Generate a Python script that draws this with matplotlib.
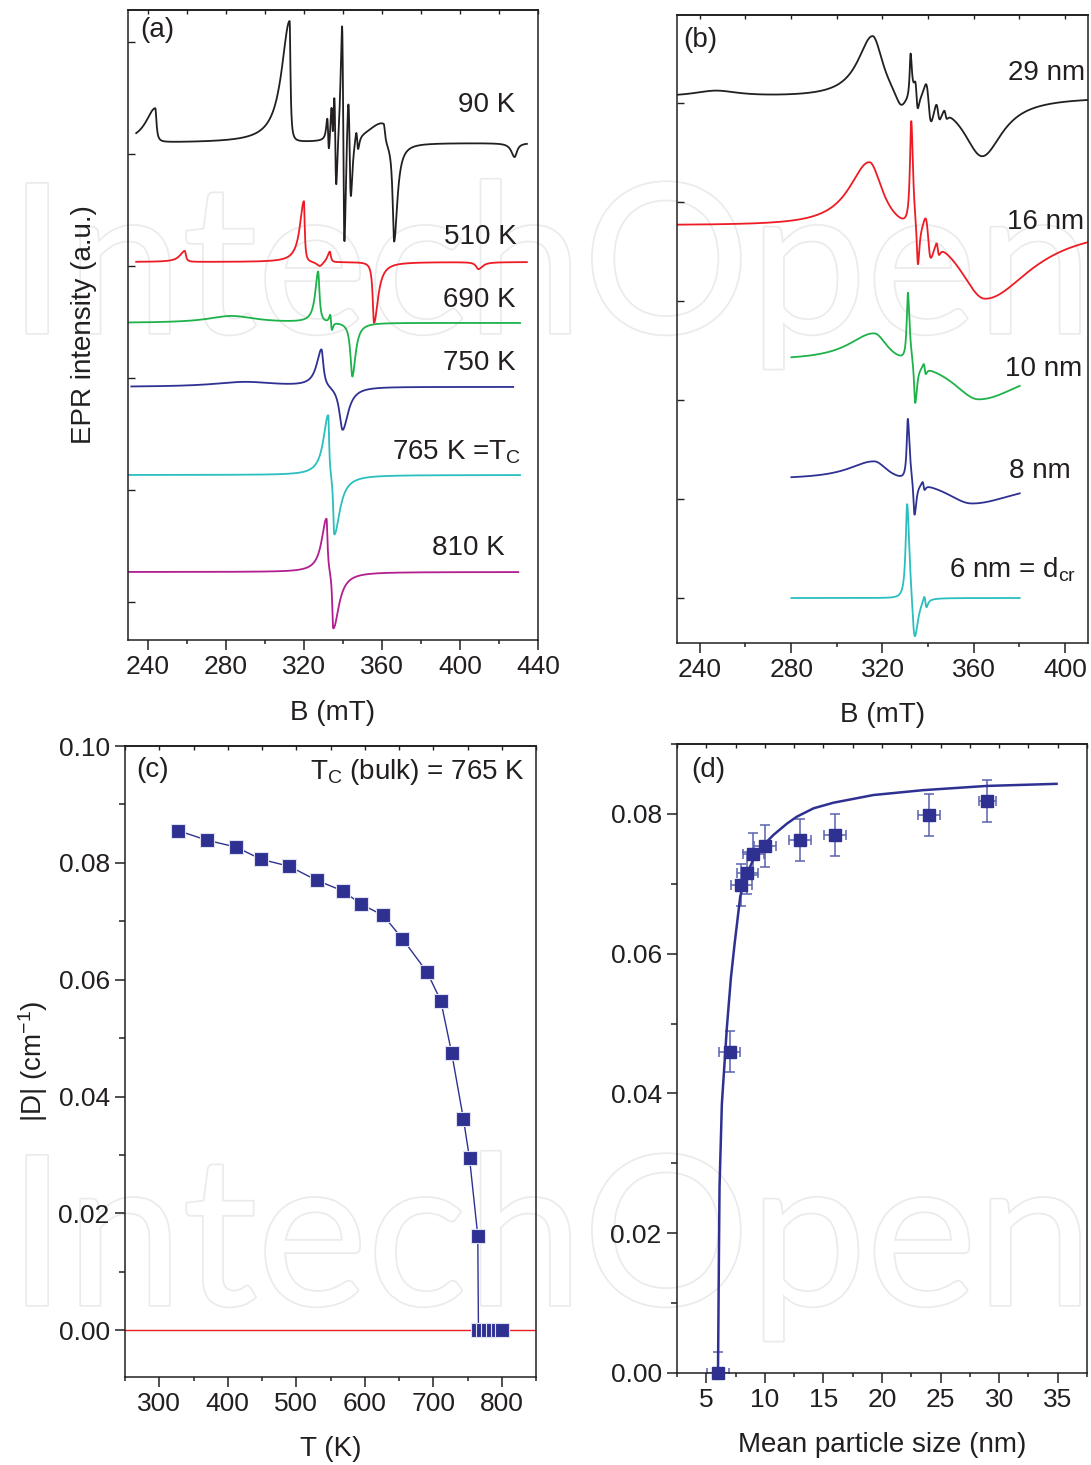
import numpy as np
import matplotlib
matplotlib.use('Agg')
import matplotlib.pyplot as plt
from matplotlib import patheffects
from matplotlib.ticker import MultipleLocator, FormatStrFormatter

plt.rcParams['font.family'] = ['Liberation Sans Narrow', 'Liberation Sans', 'DejaVu Sans']
plt.rcParams['font.size'] = 19
plt.rcParams['mathtext.default'] = 'regular'
plt.rcParams['axes.linewidth'] = 1.1

ink = '#231f20'
navy = '#2e3192'

# ---- panel (a): EPR spectra vs temperature (line components)
a_labels = ['90 K', '510 K', '690 K', '750 K', '765 K =T$_\\mathregular{C}$', '810 K']
a_colors = [ink, '#ed1c24', '#1db24a', '#2e3192', '#2bbfbf', '#b01e8f']
a_offsets = [459, 340, 279, 215, 127, 30]
a_start = [234.2, 234.2, 230.0, 231.7, 230.0, 230.0]
a_end = [434.3, 434.3, 430.9, 427.4, 430.9, 430.0]
# asymmetric absorption-like peaks: (B0, left width, right width, height)
a_peaks = [
    [(244.0, 6.0, 0.7, 34), (312.8, 5.0, 0.5, 121), (361.0, 10.0, 0.8, 22),
     (366.3, 0.9, 2.0, -99), (428.0, 2.0, 1.5, -14)],
    [(259.1, 3.0, 0.7, 11), (320.1, 2.5, 0.5, 61), (328.3, 2.0, 2.0, -5),
     (333.4, 1.5, 0.6, 11), (356.0, 0.8, 2.5, -61), (409.5, 1.5, 2.5, -7)],
    [(283.0, 15.0, 15.0, 7), (327.4, 1.8, 0.8, 51), (344.9, 1.2, 2.0, -54)],
    [(290.0, 20.0, 20.0, 5), (329.1, 3.0, 1.2, 38), (339.9, 2.0, 3.5, -44)],
    [(332.6, 3.0, 0.5, 62), (335.6, 0.6, 3.5, -61)],
    [(331.7, 3.0, 0.6, 55), (335.1, 0.6, 3.5, -58)],
]
# first-derivative lines: (B0, width, peak-to-peak)
a_derivs = [
    [(332.5, 0.8, 35), (334.6, 0.8, 45), (336.15, 0.95, 101), (340.25, 1.1, 224),
     (343.5, 1.2, 105), (347.4, 0.9, 20)],
    [],
    [(334.0, 0.8, 15)],
    [], [], [],
]

# ---- panel (b): EPR spectra vs particle size
b_labels = ['29 nm', '16 nm', '10 nm', '8 nm', '6 nm = d$_\\mathregular{cr}$']
b_colors = [ink, '#ed1c24', '#1db24a', '#2e3192', '#2bbfbf']
b_offsets = [501, 373, 238, 119, 0]
b_start = [230.0, 230.0, 280.1, 280.1, 280.1]
b_end = [410.0, 410.0, 380.2, 380.2, 380.2]
b_peaks = [
    [(247.0, 12.0, 12.0, 6), (315.7, 8.0, 5.5, 64), (328.0, 3.0, 3.0, -15),
     (332.3, 0.5, 0.7, 45), (363.6, 10.0, 11.0, -60)],
    [(314.3, 11.0, 7.0, 68), (332.6, 0.7, 0.9, 108), (335.5, 0.6, 0.8, -45), (364.8, 14.0, 25.0, -75)],
    [(316.5, 14.0, 7.0, 30), (331.1, 0.6, 0.9, 70), (334.3, 0.6, 1.0, -44), (362.0, 14.0, 25.0, -40)],
    [(316.5, 14.0, 7.0, 20), (331.1, 0.6, 0.9, 63), (334.0, 0.6, 1.0, -38), (359.0, 14.0, 25.0, -25)],
    [(330.8, 0.8, 1.2, 100), (334.0, 1.2, 1.8, -50)],
]
b_derivs = [
    [(334.9, 1.0, 25), (340.2, 2.0, 37), (344.3, 1.4, 17), (347.6, 1.0, 8)],
    [(340.0, 2.0, 37), (344.2, 1.0, 12)],
    [(338.5, 0.8, 10)],
    [(338.0, 0.8, 8)],
    [(338.8, 0.9, 12)],
]

# ---- panel (c): |D| vs temperature
T = [328, 369, 412, 449, 490, 530, 568, 595, 627, 655, 691, 711, 727, 744, 753, 765,
     766, 773, 780, 787, 794, 800]
D_T = [0.0855, 0.0839, 0.0827, 0.0806, 0.0794, 0.0770, 0.0752, 0.0729, 0.0710, 0.0670,
       0.0613, 0.0564, 0.0474, 0.0362, 0.0294, 0.0162, 0.0, 0.0, 0.0, 0.0, 0.0, 0.0]

# ---- panel (d): |D| vs mean particle size
size = [6.0, 7.0, 8.0, 8.5, 9.0, 10.0, 13.0, 16.0, 24.0, 29.0]
D_size = [0.0, 0.046, 0.0698, 0.0716, 0.0743, 0.0754, 0.0762, 0.0770, 0.0799, 0.0819]
size_err = [0.9, 0.9, 0.9, 0.9, 0.9, 0.95, 0.95, 0.95, 0.95, 0.75]
D_err = [0.003] * 10
fit_size = [6.0, 6.08, 6.13, 6.33, 6.76, 7.1, 7.41, 7.9, 8.33, 9.04, 9.74, 10.74, 11.88,
            12.73, 14.16, 15.86, 19.27, 23.54, 28.94, 34.9]
fit_D = [0.0, 0.0172, 0.0266, 0.0385, 0.0495, 0.0565, 0.0613, 0.0682, 0.0708, 0.0736,
         0.0753, 0.0770, 0.0786, 0.0796, 0.0808, 0.0816, 0.0827, 0.0834, 0.0840, 0.0843]


def apk(B, B0, wl, wr, A):
    w = np.where(B < B0, wl, wr)
    return A / (1 + ((B - B0) / w) ** 2)


def dlor(B, B0, w, pp):
    x = (B - B0) / w
    return -pp * 2 * x / (1 + x ** 2) ** 2 / 1.299


def spectrum(start, end, peaks, derivs):
    B = np.arange(start, end, 0.1)
    y = np.zeros_like(B)
    for p in peaks:
        y += apk(B, *p)
    for d in derivs:
        y += dlor(B, *d)
    return B, y


W, H = 1091, 1465
fig = plt.figure(figsize=(W / 100, H / 100), dpi=100)


def px_axes(l, t, r, b):
    ax = fig.add_axes([l / W, 1 - b / H, (r - l) / W, (b - t) / H])
    ax.set_facecolor('none')
    ax.set_zorder(2)
    for s in ax.spines.values():
        s.set_color(ink)
    return ax


def x_ticks(ax, major, minor):
    ax.xaxis.set_major_locator(MultipleLocator(major))
    ax.xaxis.set_minor_locator(MultipleLocator(minor))
    ax.tick_params(axis='x', which='major', direction='out', length=7, width=1.1,
                   pad=4, colors=ink, labelcolor=ink)
    ax.tick_params(axis='x', which='minor', direction='out', length=3, width=1.1, colors=ink)
    top = ax.secondary_xaxis('top')
    top.xaxis.set_major_locator(MultipleLocator(major))
    top.xaxis.set_minor_locator(MultipleLocator(minor))
    top.tick_params(which='both', direction='in', length=3, width=1.0, labeltop=False, colors=ink)


# watermark, behind everything
for yb in [333, 1305]:
    fig.text(8 / W, 1 - yb / H, 'IntechOpen', fontsize=150, family='Lato', color='white',
             ha='left', va='baseline', zorder=-10,
             path_effects=[patheffects.withStroke(linewidth=2.5, foreground='#ebebeb')])

# (a)
ax = px_axes(128, 10, 538, 640)
for i in range(len(a_labels)):
    B, y = spectrum(a_start[i], a_end[i], a_peaks[i], a_derivs[i])
    ax.plot(B, y + a_offsets[i], color=a_colors[i], lw=1.3)
ax.set_xlim(230, 440)
ax.set_ylim(-38, 592)
x_ticks(ax, 40, 20)
ax.set_yticks(np.arange(0, 600, 112))
ax.tick_params(axis='y', direction='in', length=5, width=1.0, labelleft=False, colors=ink)
label_pos_a = [(428.3, 497), (429.1, 365), (428.3, 302), (428.3, 239), (431.4, 150), (423.2, 54)]
for lab, (bx, by) in zip(a_labels, label_pos_a):
    ax.text(bx, by, lab, ha='right', va='center', color=ink, fontsize=20)
ax.text(0.029, 0.968, '(a)', transform=ax.transAxes, ha='left', va='center', color=ink, fontsize=20)
ax.set_xlabel('B (mT)', color=ink, fontsize=20, labelpad=15)
ax.set_ylabel('EPR intensity (a.u.)', color=ink, fontsize=20, labelpad=22)

# (b)
ax = px_axes(677, 15, 1088, 643)
for i in range(len(b_labels)):
    B, y = spectrum(b_start[i], b_end[i], b_peaks[i], b_derivs[i])
    ax.plot(B, y + b_offsets[i], color=b_colors[i], lw=1.3)
ax.set_xlim(230, 410)
ax.set_ylim(-45, 583)
x_ticks(ax, 40, 20)
ax.set_yticks(np.arange(0, 583, 99))
ax.tick_params(axis='y', direction='in', length=5, width=1.0, labelleft=False, colors=ink)
label_pos_b = [(408.8, 524.7), (408.5, 375.7), (407.7, 229), (402.6, 127.3), (404.6, 28)]
for lab, (bx, by) in zip(b_labels, label_pos_b):
    ax.text(bx, by, lab, ha='right', va='center', color=ink, fontsize=20)
ax.text(0.015, 0.96, '(b)', transform=ax.transAxes, ha='left', va='center', color=ink, fontsize=20)
ax.set_xlabel('B (mT)', color=ink, fontsize=20, labelpad=14)

# (c)
ax = px_axes(125, 746, 536, 1377)
ax.axhline(0, color='#ed1c24', lw=1.0, zorder=1)
ax.plot(T, D_T, color=navy, lw=1.0, marker='s', ms=9.5, mfc=navy, mec='#dfe1f0', mew=0.8, zorder=3)
ax.set_xlim(250, 850)
ax.set_ylim(-0.008, 0.10)
x_ticks(ax, 100, 50)
ax.yaxis.set_major_locator(MultipleLocator(0.02))
ax.yaxis.set_minor_locator(MultipleLocator(0.01))
ax.yaxis.set_major_formatter(FormatStrFormatter('%.2f'))
ax.tick_params(axis='y', which='major', direction='out', length=7, width=1.1, pad=4, colors=ink)
ax.tick_params(axis='y', which='minor', direction='out', length=4, width=1.1, colors=ink)
ax.text(0.027, 0.962, '(c)', transform=ax.transAxes, ha='left', va='center', color=ink, fontsize=20)
ax.text(0.973, 0.959, 'T$_\\mathregular{C}$ (bulk) = 765 K', transform=ax.transAxes,
        ha='right', va='center', color=ink, fontsize=20)
ax.set_xlabel('T (K)', color=ink, fontsize=20, labelpad=14)
ax.set_ylabel('|D| (cm$^{\\mathregular{-1}}$)', color=ink, fontsize=20, labelpad=6)

# (d)
ax = px_axes(677, 744, 1087, 1373)
ax.errorbar(size, D_size, xerr=size_err, yerr=D_err, fmt='none', ecolor='#5a63ad',
            elinewidth=1.1, capsize=3.5, capthick=1.1, zorder=2)
ax.plot(fit_size, fit_D, color=navy, lw=1.8, zorder=3)
ax.plot(size, D_size, ls='none', marker='s', ms=9, color=navy, zorder=4, clip_on=False)
ax.set_xlim(2.5, 37.5)
ax.set_ylim(0, 0.09)
x_ticks(ax, 5, 2.5)
ax.yaxis.set_major_locator(MultipleLocator(0.02))
ax.yaxis.set_minor_locator(MultipleLocator(0.01))
ax.yaxis.set_major_formatter(FormatStrFormatter('%.2f'))
ax.tick_params(axis='y', which='major', direction='out', length=7, width=1.1, pad=4, colors=ink)
ax.tick_params(axis='y', which='minor', direction='out', length=4, width=1.1, colors=ink)
ax.text(0.034, 0.959, '(d)', transform=ax.transAxes, ha='left', va='center', color=ink, fontsize=20)
ax.set_xlabel('Mean particle size (nm)', color=ink, fontsize=20, labelpad=14)

fig.savefig('out.png', dpi=100)
